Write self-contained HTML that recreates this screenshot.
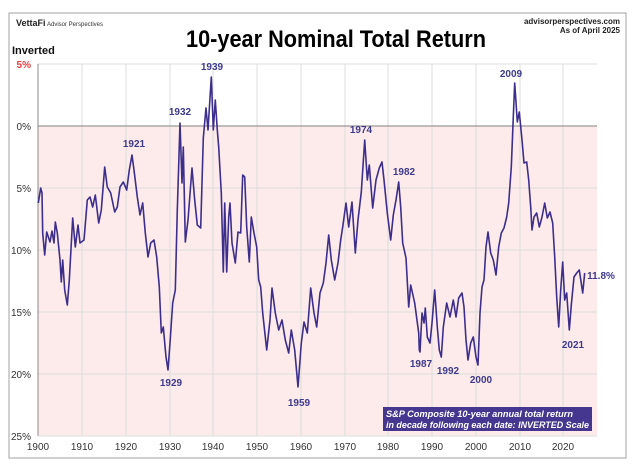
<!DOCTYPE html>
<html><head><meta charset="utf-8"><style>
body{margin:0;background:#fff;}
svg{display:block;font-family:"Liberation Sans",Arial,sans-serif;}
</style></head><body>
<svg width="635" height="466" viewBox="0 0 635 466">
<rect x="0" y="0" width="635" height="466" fill="#fff"/>
<rect x="9" y="13" width="617" height="445" fill="#fff" stroke="#b0b0b0" stroke-width="1.2"/>
<rect x="38" y="126" width="559" height="310" fill="#fdeaea"/>
<g stroke="#dcdcdc" stroke-width="1">
<line x1="82" y1="64" x2="82" y2="436"/><line x1="126" y1="64" x2="126" y2="436"/><line x1="170" y1="64" x2="170" y2="436"/>
<line x1="213" y1="64" x2="213" y2="436"/><line x1="257" y1="64" x2="257" y2="436"/><line x1="301" y1="64" x2="301" y2="436"/>
<line x1="345" y1="64" x2="345" y2="436"/><line x1="388" y1="64" x2="388" y2="436"/><line x1="432" y1="64" x2="432" y2="436"/>
<line x1="476" y1="64" x2="476" y2="436"/><line x1="520" y1="64" x2="520" y2="436"/><line x1="563" y1="64" x2="563" y2="436"/>
<line x1="38" y1="64" x2="597" y2="64"/><line x1="38" y1="188" x2="597" y2="188"/><line x1="38" y1="250" x2="597" y2="250"/>
<line x1="38" y1="312" x2="597" y2="312"/><line x1="38" y1="374" x2="597" y2="374"/>
</g>
<line x1="38" y1="126" x2="597" y2="126" stroke="#999" stroke-width="1.2"/>
<line x1="38" y1="64" x2="38" y2="436" stroke="#888" stroke-width="1"/>
<line x1="38" y1="436" x2="597" y2="436" stroke="#ddd" stroke-width="1"/>
<polyline fill="none" stroke="#3d2e8c" stroke-width="1.6" stroke-linejoin="round" points="
38.3,203 40.7,188 42,193 42.7,233 44.7,255 46.7,232 50,242 52,231 54,243 55.3,222 57.3,233 60,260 61.3,282 62.7,260 64.7,290 67.3,305 69.3,280 72.7,218 75.3,247 78,225 80,243 84,240 87.3,200 90,197 92.7,207 95.3,195 98.7,223 101.3,210 104.7,167 107.3,187 110.7,193 114.7,212 117.3,207 120,187 123.3,182 126.7,190 129.3,170 132,155 134,170 137.3,197 140,215 142.7,203 145.3,233 148,257 150.7,243 154,240 156.7,257 159.3,287 161.3,333 163.3,327 166,357 168,370 170,343 172.7,303 175.3,290 177.3,210 180,123 182,183 183.3,147 185.3,242 188,220 192,168 194.7,200 197.3,225 200.7,228 203.3,138 206,108 208,130 211.3,77 213.3,130 215.3,100 217.3,130 218.7,147 221.3,193 223.3,272 224.7,203 226.7,272 228.7,217
230,203 232,243 235.3,263 238,232 240.7,233 242.7,175 244.7,177 246.7,227 249.3,262 251.3,217 254,233 256.7,247 258.7,280 260.7,287 262.7,313 266.7,350 270,320 272,288 275.3,313 278.7,330 282,320 285.3,340 288.7,353 291.3,330 294.7,350 298,387 301.3,343 304,322 307.3,333 310.7,288 314,313 316.7,327 320,293 323.3,283 326,263 328.7,235 331.3,260 334.7,280 338,263 340.7,240 342.7,227 346,203 348.7,227 352,202 355.3,253 358,220 361.3,192 364.7,140 367.3,180 369.3,165 372.7,208 376,180 379.3,168 382,162 384,180 387.3,213 390.7,240 393.3,215 396,200 398.7,182 400.7,207 402.7,243 406,258 408.7,307 410.7,285 414.7,303 418.7,333 419.3,350
420,352 422,313 424,323 425.3,308 427.3,337 430,343 432,323 434.7,290 437.3,327 439.3,350 441.3,357 443.3,327 446.7,303 450,317 453.3,300 456,317 458.7,298 462,293 464,307 466,340 468,360 470.7,343 473.3,337 476,357 478,365 480,313 482,287 484,280 486,247 488,232 490.7,253 493.3,260 496,275 498.7,247 501.3,233 504,228 506.7,217 508.7,203 511.3,167 513.3,117 514.7,83 516,102 517.3,122 519.3,112 522,140 524,163 526.7,162 528.7,180 530.7,207 532,230 534,217 536.7,213 539.3,227 542,217 544.7,203 547.3,218 550,212 552.7,223 554.7,257 556.7,297 558.7,327 560.7,290 562.7,262 564.7,300 566.7,293 569.3,330 571.3,305 574,277 576.7,273 579.3,270 582.7,293 584.7,273"/>
<g font-size="10" font-weight="bold" fill="#3d3a8c" text-anchor="middle">
<text x="134" y="147">1921</text><text x="180" y="115">1932</text><text x="212" y="70">1939</text>
<text x="171" y="386">1929</text><text x="299" y="406">1959</text><text x="361" y="133">1974</text>
<text x="404" y="175">1982</text><text x="421" y="367">1987</text><text x="448" y="374">1992</text>
<text x="481" y="383">2000</text><text x="511" y="77">2009</text><text x="573" y="348">2021</text>
<text x="601" y="279" text-anchor="middle">11.8%</text>
</g>
<g font-size="10" fill="#333" text-anchor="end">
<text x="31" y="68" fill="#e84040" font-weight="bold">5%</text>
<text x="31" y="130">0%</text><text x="31" y="192">5%</text><text x="31" y="254">10%</text>
<text x="31" y="316">15%</text><text x="31" y="378">20%</text><text x="31" y="440">25%</text>
</g>
<g font-size="10" fill="#333" text-anchor="middle">
<text x="38" y="450">1900</text><text x="82" y="450">1910</text><text x="126" y="450">1920</text><text x="170" y="450">1930</text>
<text x="213" y="450">1940</text><text x="257" y="450">1950</text><text x="301" y="450">1960</text><text x="345" y="450">1970</text>
<text x="388" y="450">1980</text><text x="432" y="450">1990</text><text x="476" y="450">2000</text><text x="520" y="450">2010</text><text x="563" y="450">2020</text>
</g>
<rect x="383" y="407" width="209" height="24" fill="#45368f"/>
<g font-size="9.5" font-weight="bold" font-style="italic" fill="#fff">
<text x="386" y="417" textLength="187" lengthAdjust="spacingAndGlyphs">S&amp;P Composite 10-year annual total return</text>
<text x="386" y="428" textLength="203" lengthAdjust="spacingAndGlyphs">in decade following each date: INVERTED Scale</text>
</g>
<text x="16" y="26" font-size="9" font-weight="bold" fill="#222">VettaFi</text>
<text x="47" y="26" font-size="6" fill="#333">Advisor Perspectives</text>
<text x="620" y="24" font-size="8" font-weight="bold" fill="#222" text-anchor="end">advisorperspectives.com</text>
<text x="620" y="33" font-size="8" font-weight="bold" fill="#222" text-anchor="end">As of April 2025</text>
<text x="186" y="47" font-size="24" font-weight="bold" fill="#000" textLength="300" lengthAdjust="spacingAndGlyphs">10-year Nominal Total Return</text>
<text x="12" y="54" font-size="11" font-weight="bold" fill="#111">Inverted</text>
</svg>
</body></html>
